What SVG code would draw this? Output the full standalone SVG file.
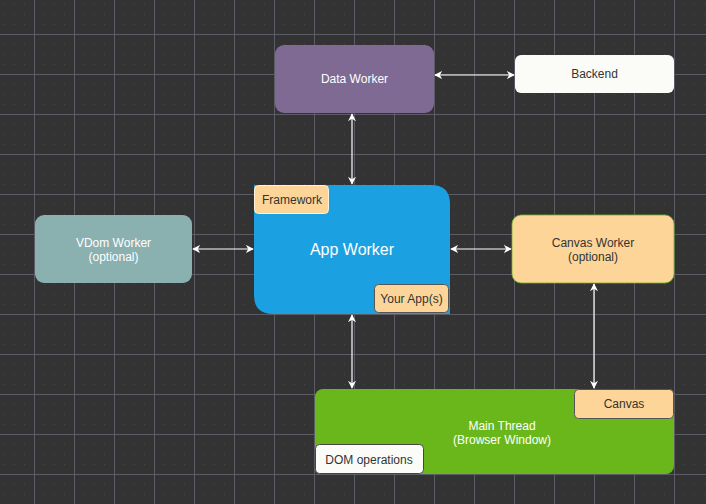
<svg xmlns="http://www.w3.org/2000/svg" width="706" height="504" viewBox="0 0 706 504">
<defs>
<pattern id="minor" x="4" y="4" width="10" height="10" patternUnits="userSpaceOnUse">
<rect x="0" y="0" width="1" height="1" fill="#4a4a4a"/>
</pattern>
<pattern id="major" x="34" y="34" width="40" height="40" patternUnits="userSpaceOnUse">
<path d="M0 0.5H40M0.5 0V40" fill="none" stroke="#5c5c66" stroke-width="1"/>
</pattern>
<marker id="ah" viewBox="0 0 10 10" refX="9" refY="5" markerWidth="8" markerHeight="8" markerUnits="userSpaceOnUse" orient="auto-start-reverse">
<path d="M0 0L10 5L0 10L3 5Z" fill="#ffffff"/>
</marker>
<style>
text{font-family:"Liberation Sans",Arial,sans-serif;font-size:12px;text-anchor:middle;dominant-baseline:central}
.w{fill:#ffffff}
.d{fill:#333333}
.conn{stroke:#ffffff;stroke-width:1.2;fill:none;marker-start:url(#ah);marker-end:url(#ah)}
.sub{fill:#fdd598;stroke:#555555;stroke-width:1}
</style>
</defs>
<rect width="706" height="504" fill="#333333"/>
<rect width="706" height="504" fill="url(#minor)"/>
<rect width="706" height="504" fill="url(#major)"/>

<g id="connectors">
<line class="conn" x1="435" y1="75" x2="514" y2="75"/>
<line class="conn" x1="352" y1="114" x2="352" y2="184"/>
<line class="conn" x1="193" y1="249" x2="253" y2="249"/>
<line class="conn" x1="451" y1="249" x2="511" y2="249"/>
<line class="conn" x1="352" y1="315" x2="352" y2="388"/>
<line class="conn" x1="594" y1="284" x2="594" y2="388"/>
</g>

<g id="data-worker">
<rect x="275" y="45" width="159" height="68" rx="9" fill="#7f6a93"/>
<text class="w" x="354.5" y="79">Data Worker</text>
</g>

<g id="backend">
<rect x="515" y="55" width="159" height="38" rx="6" fill="#fbfcf8"/>
<text class="d" x="594.5" y="74">Backend</text>
</g>

<g id="vdom-worker">
<rect x="35" y="215" width="157" height="68" rx="9" fill="#8ab0b0"/>
<text class="w" x="113.5" y="243">VDom Worker</text>
<text class="w" x="113.5" y="257">(optional)</text>
</g>

<g id="app-worker">
<path d="M254 185H431Q450 185 450 204V314H273Q254 314 254 295Z" fill="#1ba1e2"/>
<text class="w" x="352" y="249" style="font-size:16px">App Worker</text>
<rect x="254.5" y="185.5" width="74" height="28" rx="4" fill="#fdd598" stroke="#fff2d6" stroke-width="1"/>
<text class="d" x="292" y="200">Framework</text>
<rect class="sub" x="374.5" y="284.5" width="74" height="28" rx="4"/>
<text class="d" x="411.5" y="299">Your App(s)</text>
</g>

<g id="canvas-worker">
<rect x="512" y="215" width="162" height="68" rx="9" fill="#fdd598" stroke="#6ab71c" stroke-width="0.8"/>
<text class="d" x="593" y="243">Canvas Worker</text>
<text class="d" x="593" y="257">(optional)</text>
</g>

<g id="main-thread">
<rect x="315" y="389" width="359" height="85" rx="8" fill="#6ab71c"/>
<text class="w" x="502" y="426">Main Thread</text>
<text class="w" x="502" y="440">(Browser Window)</text>
<rect class="sub" x="574.5" y="389.5" width="99" height="29" rx="4"/>
<text class="d" x="624" y="404">Canvas</text>
<rect x="315.5" y="444.5" width="108" height="29" rx="4" fill="#fbfcf8" stroke="#444444" stroke-width="1"/>
<text class="d" x="369" y="460">DOM operations</text>
</g>
</svg>
